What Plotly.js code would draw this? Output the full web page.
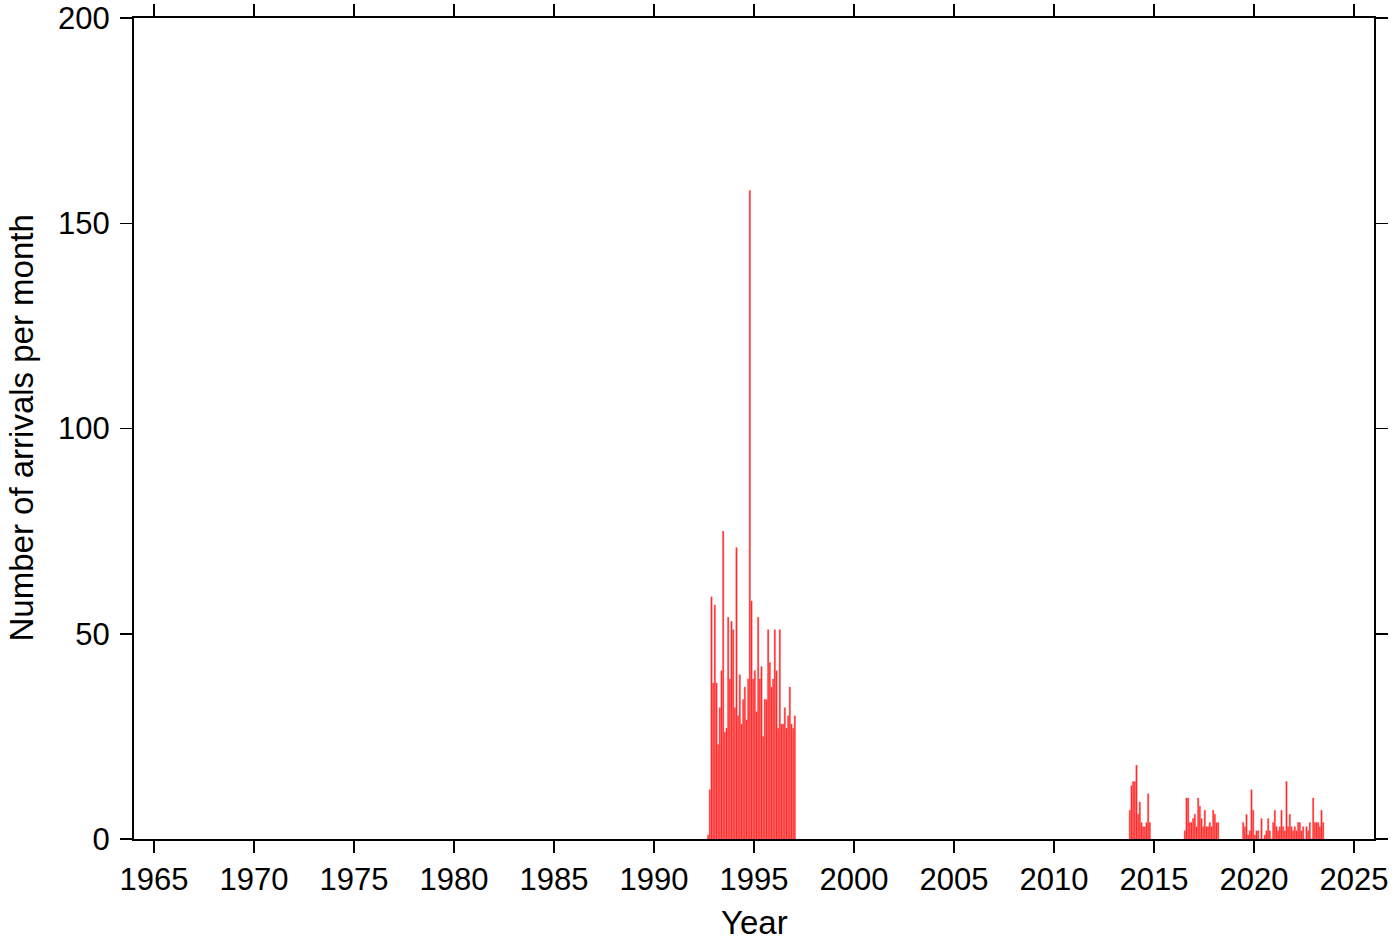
<!DOCTYPE html>
<html>
<head>
<meta charset="utf-8">
<script src="https://cdn.plot.ly/plotly-3.0.1.min.js"></script>
<style>html,body{margin:0;padding:0;background:#fff;}#chart{width:1400px;height:942px;}</style>
</head>
<body>
<div id="chart"></div>
<script>
// Monthly arrival counts, grouped in contiguous runs of months
const run1Start = [1992, 9];   // [year, month]
const run1Counts = [1, 12, 59, 38, 57, 38, 23, 32, 41, 75, 26, 27, 54, 39, 53, 51, 32, 71, 30, 40,
  28, 34, 37, 29, 39, 158, 58, 39, 41, 31, 54, 39, 42, 25, 34, 34, 51, 43, 37, 39, 51, 41, 27, 51,
  28, 28, 32, 27, 30, 37, 28, 27, 30];
const run2Start = [2013, 10];
const run2Counts = [7, 13, 14, 14, 18, 6, 9, 4, 3, 3, 4, 11, 4];
const run3Start = [2016, 7];
const run3Counts = [2, 10, 10, 4, 4, 5, 6, 3, 10, 8, 5, 3, 7, 3, 3, 4, 3, 7, 6, 4, 4];
const run4Start = [2019, 6];
const run4Counts = [4, 3, 6, 1, 2, 12, 7, 1, 2, 2, 0, 5, 0, 1, 2, 5, 2, 0, 4, 7, 3, 2, 3, 7, 3, 2,
  14, 3, 6, 3, 2, 3, 2, 4, 4, 2, 3, 0, 3, 2, 4, 0, 10, 4, 4, 4, 3, 7, 4];
const yTickVals = [0, 50, 100, 150, 200];
const xTitle = 'Year';
const yTitle = 'Number of arrivals per month';

const runs = [[run1Start, run1Counts], [run2Start, run2Counts], [run3Start, run3Counts], [run4Start, run4Counts]];
const xs = [], ys = [];
runs.forEach(([start, counts]) => {
  counts.forEach((c, i) => {
    const m = (start[1] - 1) + i;
    xs.push(start[0] + (m + 0.5) / 12);
    ys.push(c);
  });
});

const fam = '"Liberation Sans", Arial, Helvetica, sans-serif';
const tickFont = {family: fam, size: 31, color: '#000'};
const titleFont = {family: fam, size: 33, color: '#000'};

const trace = {
  type: 'bar',
  x: xs,
  y: ys,
  width: 1 / 12 * 0.82,
  marker: {color: '#ff1e1e', line: {color: '#ff5a5a', width: 0.4}},
  hoverinfo: 'x+y'
};

const W = 1400, H = 942;
const margin = {l: 134, r: 26, t: 18, b: 103};
const plotW = W - margin.l - margin.r;
const plotH = H - margin.t - margin.b;

const layout = {
  width: W,
  height: H,
  margin: margin,
  paper_bgcolor: '#fff',
  plot_bgcolor: '#fff',
  showlegend: false,
  font: tickFont,
  xaxis: {
    range: [1964, 2026],
    tick0: 1965,
    dtick: 5,
    tickmode: 'linear',
    ticks: 'outside',
    ticklen: 12,
    tickwidth: 1.5,
    tickcolor: '#000',
    showline: true,
    linewidth: 2,
    linecolor: '#000',
    mirror: 'ticks',
    showgrid: false,
    zeroline: false,
    tickfont: tickFont,
    ticklabelstandoff: 0,
    ticklabeloverflow: 'allow',
    automargin: false
  },
  yaxis: {
    range: [0, 200],
    tickmode: 'array',
    tickvals: yTickVals,
    ticktext: yTickVals.map(String),
    ticks: 'outside',
    ticklen: 12,
    tickwidth: 1.5,
    tickcolor: '#000',
    showline: true,
    linewidth: 2,
    linecolor: '#000',
    mirror: 'ticks',
    showgrid: false,
    zeroline: false,
    tickfont: tickFont,
    ticklabelstandoff: 4,
    ticklabeloverflow: 'allow',
    automargin: false
  },
  annotations: [
    {text: xTitle, xref: 'paper', yref: 'paper', x: 0.5, y: -(922 - (H - margin.b)) / plotH,
     xanchor: 'center', yanchor: 'middle', showarrow: false, font: titleFont},
    {text: yTitle, xref: 'paper', yref: 'paper', x: -(margin.l - 21) / plotW, y: 0.5,
     xanchor: 'center', yanchor: 'middle', textangle: -90, showarrow: false, font: titleFont}
  ]
};

Plotly.newPlot('chart', [trace], layout, {staticPlot: true, displayModeBar: false});
</script>
</body>
</html>
